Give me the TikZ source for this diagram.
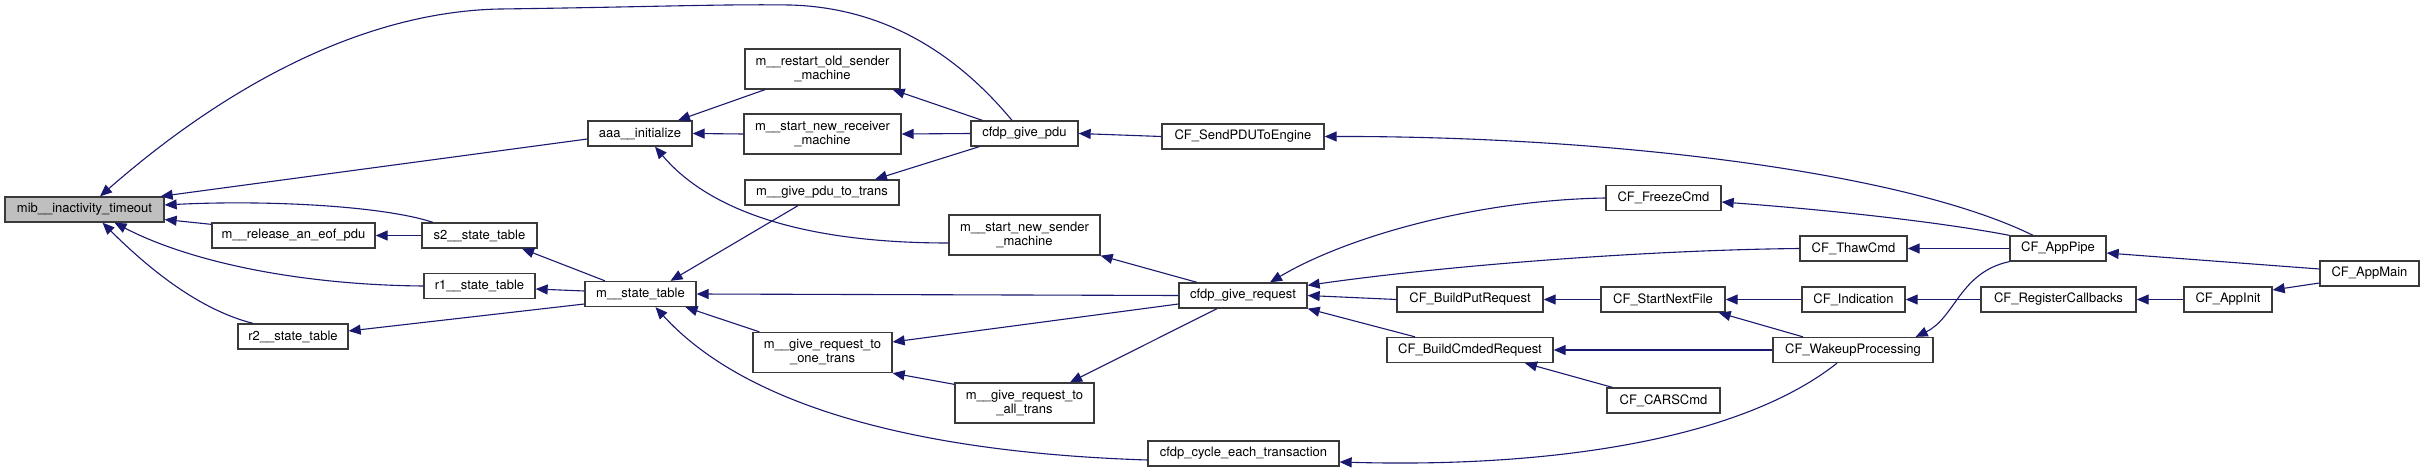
\documentclass[tikz,border=0pt]{standalone}
\usepackage{fontspec}
\setmainfont{TeX Gyre Heros}
\usepackage{tikz}
\usetikzlibrary{arrows.meta}
\definecolor{dedge}{HTML}{191970}
\definecolor{dborder}{HTML}{3A3A3A}
\definecolor{dfocus}{HTML}{BFBFBF}
\tikzset{
  fn/.style={draw=dborder, fill=white, line width=1.3pt, minimum height=25pt,
             inner sep=2pt, align=center, font=\fontsize{13}{14}\selectfont},
  fnfocus/.style={fn, fill=dfocus},
  fntwo/.style={fn, minimum height=40pt},
  carr/.style={{Triangle[length=12pt,width=10pt]}-, dedge, line width=1.1pt},
}

\begin{document}
\begin{tikzpicture}[x=1pt, y=-1pt]
  \path[use as bounding box, fill=white] (0,0) rectangle (2424,473);

  % column 1-2
  \node[fnfocus, minimum width=159pt] (mib) at (84.5,209.5) {mib\_\_inactivity\_timeout};
  \node[fn, minimum width=163pt] (rel) at (293.5,235.5) {m\_\_release\_an\_eof\_pdu};
  \node[fn, minimum width=110pt] (r2) at (293,336.5) {r2\_\_state\_table};

  % column 3
  \node[fn, minimum width=115pt] (s2) at (479.5,235.5) {s2\_\_state\_table};
  \node[fn, minimum width=111pt] (r1) at (479.5,286) {r1\_\_state\_table};

  % column 4
  \node[fn, minimum width=104pt] (aaa) at (640,133.5) {aaa\_\_initialize};
  \node[fn, minimum width=111pt] (mst) at (640.5,294) {m\_\_state\_table};

  % column 5
  \node[fntwo, minimum width=155pt] (rosm) at (822.5,69) {m\_\_restart\_old\_sender\\\_machine};
  \node[fntwo, minimum width=157pt] (snrm) at (822.5,134) {m\_\_start\_new\_receiver\\\_machine};
  \node[fn, minimum width=154pt] (gptt) at (822,192.5) {m\_\_give\_pdu\_to\_trans};
  \node[fntwo, minimum width=139pt] (gr1) at (822.5,352.5) {m\_\_give\_request\_to\\\_one\_trans};

  % column 6
  \node[fn, minimum width=107pt] (gpdu) at (1024.5,133.5) {cfdp\_give\_pdu};
  \node[fntwo, minimum width=151pt] (snsm) at (1024.5,235) {m\_\_start\_new\_sender\\\_machine};
  \node[fntwo, minimum width=139pt] (gra) at (1024.5,403) {m\_\_give\_request\_to\\\_all\_trans};

  % column 7
  \node[fn, minimum width=162pt] (send) at (1243,136.5) {CF\_SendPDUToEngine};
  \node[fn, minimum width=128pt] (greq) at (1243,295.5) {cfdp\_give\_request};
  \node[fn, minimum width=191pt] (cyc) at (1243.5,453.5) {cfdp\_cycle\_each\_transaction};

  % column 8-10
  \node[fn, minimum width=146pt] (bput) at (1470,299.5) {CF\_BuildPutRequest};
  \node[fn, minimum width=166pt] (bcmd) at (1470,350) {CF\_BuildCmdedRequest};
  \node[fn, minimum width=115pt] (frz) at (1663.5,198) {CF\_FreezeCmd};
  \node[fn, minimum width=124pt] (snf) at (1663,299.5) {CF\_StartNextFile};
  \node[fn, minimum width=113pt] (cars) at (1663.5,400.5) {CF\_CARSCmd};
  \node[fn, minimum width=107pt] (thaw) at (1853.5,248.5) {CF\_ThawCmd};
  \node[fn, minimum width=103pt] (ind) at (1853.5,299.5) {CF\_Indication};
  \node[fn, minimum width=160pt] (wake) at (1853,350) {CF\_WakeupProcessing};

  % column 11-13
  \node[fn, minimum width=96pt] (pipe) at (2058,248.5) {CF\_AppPipe};
  \node[fn, minimum width=155pt] (reg) at (2058.5,299.5) {CF\_RegisterCallbacks};
  \node[fn, minimum width=88pt] (init) at (2228,299.5) {CF\_AppInit};
  \node[fn, minimum width=99pt] (amain) at (2369.5,273.5) {CF\_AppMain};

  % callers of mib__inactivity_timeout
  \draw[carr] ([xshift=-4pt]mib.north east) -- ([yshift=-5.5pt]aaa.west);
  \draw[carr] ([xshift=15.5pt]mib.north) .. controls (210,100) and (350,12) .. (500,9)
    .. controls (650,7) and (720,4) .. (790,5)
    .. controls (900,8) and (970,70) .. ([xshift=-12.5pt]gpdu.north);
  \draw[carr] ([yshift=4.5pt]mib.east) .. controls (260,200) and (380,205) .. ([xshift=-46.5pt]s2.north);
  \draw[carr] ([yshift=-10pt]mib.east) -- ([yshift=-2pt]rel.north west);
  \draw[carr] ([xshift=30pt]mib.south) .. controls (190,262) and (300,285) .. (r1.west);
  \draw[carr] ([xshift=18pt]mib.south) .. controls (150,270) and (200,310) .. ([xshift=-40pt]r2.north);

  % state tables
  \draw[carr] (rel.east) -- (s2.west);
  \draw[carr] ([xshift=42.5pt]s2.south) -- ([xshift=-35.5pt]mst.north);
  \draw[carr] ([yshift=-3pt]r1.east) -- ([yshift=3pt]mst.west);
  \draw[carr] ([yshift=5.5pt]r2.east) -- ([yshift=-10pt]mst.west);

  % aaa__initialize
  \draw[carr] ([xshift=38pt]aaa.north) -- ([xshift=-57.5pt]rosm.south);
  \draw[carr] (aaa.east) -- (snrm.west);
  \draw[carr] ([xshift=15pt]aaa.south) .. controls (700,200) and (780,243) .. ([yshift=-8pt]snsm.west);

  % m__state_table
  \draw[carr] ([xshift=30pt]mst.north) -- ([xshift=-24pt]gptt.south);
  \draw[carr] (mst.east) -- (greq.west);
  \draw[carr] ([xshift=45pt]mst.south) -- ([xshift=7pt]gr1.north west);
  \draw[carr] ([xshift=15pt]mst.south) .. controls (740,400) and (900,452) .. ([yshift=-6.5pt]cyc.west);

  % cfdp_give_pdu
  \draw[carr] ([xshift=-8pt]rosm.south east) -- ([xshift=12pt]gpdu.north west);
  \draw[carr] (snrm.east) -- (gpdu.west);
  \draw[carr] ([xshift=53pt]gptt.north) -- ([xshift=9pt]gpdu.south west);
  \draw[carr] (gpdu.east) -- (send.west);
  \draw[carr] (send.east) .. controls (1600,136) and (1900,170) .. ([xshift=-25pt]pipe.north);

  % cfdp_give_request
  \draw[carr] (snsm.south east) -- ([xshift=-46pt]greq.north);
  \draw[carr] ([yshift=10.5pt]gr1.east) -- ([yshift=-8.5pt]greq.west);
  \draw[carr] ([xshift=45.5pt]gra.north) -- ([xshift=-26pt]greq.south);
  \draw[carr] (gr1.south east) -- ([yshift=-2pt]gra.north west);
  \draw[carr] ([xshift=27pt]greq.north) .. controls (1350,235) and (1480,200) .. (frz.west);
  \draw[carr] ([yshift=-3pt]greq.north east) .. controls (1450,265) and (1650,250) .. (thaw.west);
  \draw[carr] (greq.east) -- (bput.west);
  \draw[carr] (greq.south east) -- ([xshift=-55pt]bcmd.north);

  % CF_ side
  \draw[carr] (bput.east) -- (snf.west);
  \draw[carr] ([xshift=-7pt]snf.south east) -- ([xshift=-50pt]wake.north);
  \draw[carr] (bcmd.east) -- (wake.west);
  \draw[carr] ([xshift=55pt]bcmd.south) -- ([xshift=6pt]cars.north west);
  \draw[carr] ([yshift=-8.5pt]cyc.east) .. controls (1550,468) and (1740,440) .. ([xshift=-16pt]wake.south);
  \draw[carr] (snf.east) -- (ind.west);
  \draw[carr] ([yshift=-4pt]frz.east) .. controls (1830,210) and (1940,222) .. (pipe.north west);
  \draw[carr] (thaw.east) -- (pipe.west);
  \draw[carr] ([xshift=-18pt]wake.north east) .. controls (1955,318) and (1960,272) .. (pipe.south west);
  \draw[carr] (ind.east) -- (reg.west);
  \draw[carr] (reg.east) -- (init.west);
  \draw[carr] ([yshift=-4.5pt]pipe.east) -- ([yshift=4.5pt]amain.west);
  \draw[carr] ([yshift=9.5pt]init.east) -- ([yshift=-9.5pt]amain.west);
\end{tikzpicture}
\end{document}
